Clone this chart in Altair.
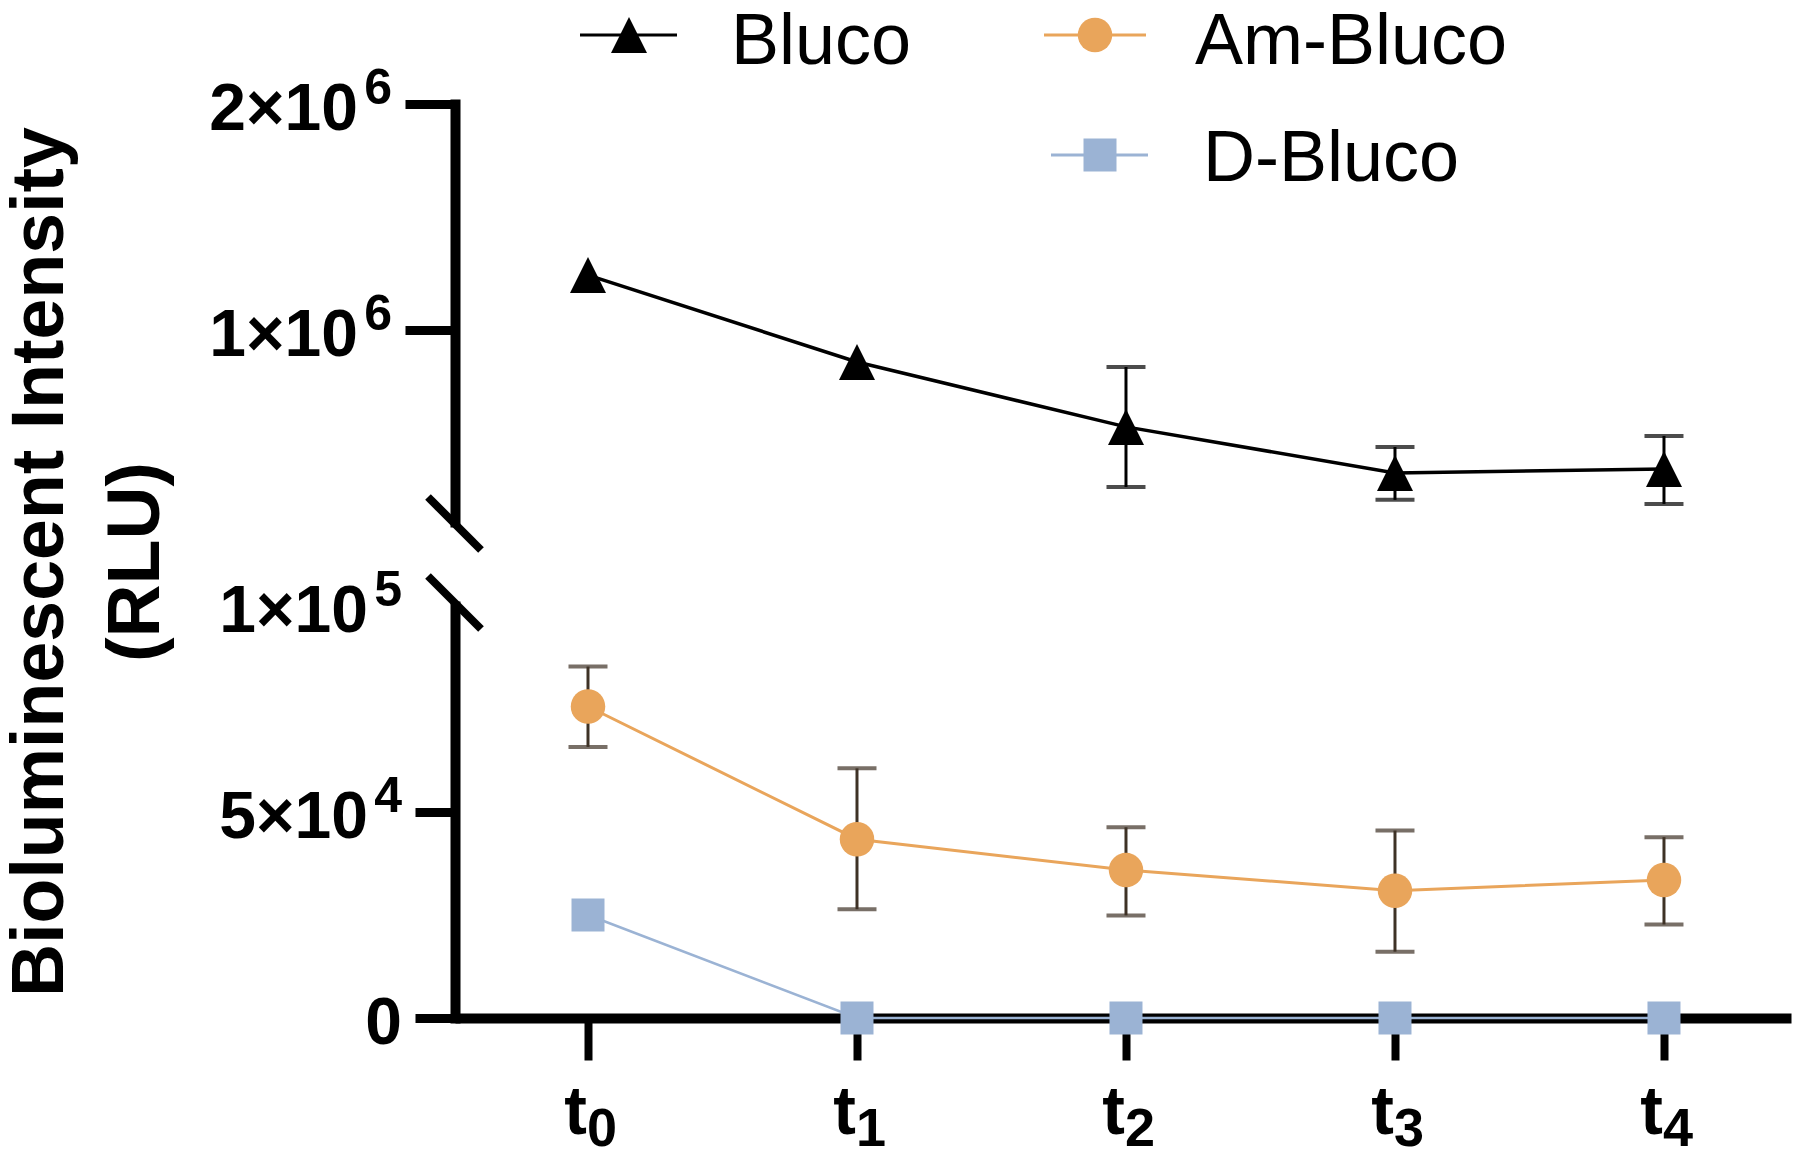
import altair as alt
import pandas as pd

# ---------------- data ----------------
times = ["t0", "t1", "t2", "t3", "t4"]
subs = ["0", "1", "2", "3", "4"]

bluco_mean = [1243000, 858000, 571000, 367000, 385000]
bluco_low = [None, None, 305000, 248000, 230000]
bluco_high = [None, None, 836000, 482000, 531000]

am_mean = [75600, 43400, 35900, 30900, 33500]
am_low = [65800, 26400, 24900, 16100, 22700]
am_high = [85300, 60600, 46300, 45500, 43900]

d_mean = [25000, 0, 0, 0, 0]

series_names = ["Bluco", "Am-Bluco", "D-Bluco"]

upper_tick_values = [1000000, 2000000]
upper_tick_base = ["1×10", "2×10"]
upper_tick_sup = ["6", "6"]

lower_tick_values = [50000, 100000]
lower_tick_base = ["5×10", "1×10"]
lower_tick_sup = ["4", "5"]
lower_plain_values = [0]
lower_plain_text = ["0"]

y_title = ["Bioluminescent Intensity", "(RLU)"]

# ---------------- styling / layout ----------------
FONT = "Liberation Sans"
BLACK = "#000000"
ORANGE = "#E9A55B"
BLUE = "#9BB3D4"
BROWN = "#3E3226"
TRI = "M0,-1L1,1L-1,1Z"

W = 1336          # plot width
UH = 418          # upper segment height
GAP = 84          # gap of the broken axis
LH = 412          # lower segment height
H = UH + GAP + LH

df = pd.DataFrame({
    "time": times, "sub": subs,
    "bluco": bluco_mean, "bluco_lo": bluco_low, "bluco_hi": bluco_high,
    "am": am_mean, "am_lo": am_low, "am_hi": am_high,
    "d": d_mean,
})

xscale = alt.Scale(type="point", domain=times, padding=0.4833, align=0.5115)
x_axis = alt.Axis(labels=False, title=None, grid=False, tickSize=42, tickWidth=8,
                  tickColor=BLACK, domainWidth=10, domainColor=BLACK, domainCap="butt")
X = alt.X("time:N", scale=xscale, axis=x_axis, title=None)

up_scale = alt.Scale(domain=[150000, 2000000], range=[UH, 0], nice=False, zero=False)
up_axis = alt.Axis(orient="left", values=upper_tick_values, labels=False, title=None, grid=False,
                   tickSize=50, tickWidth=9, tickColor=BLACK, domainWidth=10,
                   domainColor=BLACK, domainCap="square")

lo_scale = alt.Scale(domain=[0, 100000], range=[H, UH + GAP], nice=False)
lo_axis = alt.Axis(orient="left", values=[0, 50000], labels=False, title=None, grid=False,
                   tickSize=40, tickWidth=9, tickColor=BLACK, domainWidth=10,
                   domainColor=BLACK, domainCap="square")

one = alt.Data(values=[{"k": 1}])


def yu(f):
    return alt.Y(f"{f}:Q", scale=up_scale, axis=up_axis, title=None)


def yl(f):
    return alt.Y(f"{f}:Q", scale=lo_scale, axis=lo_axis, title=None)


# ---------------- upper segment ----------------
base = alt.Chart(df)
u_err = base.mark_rule(color=BLACK, strokeWidth=3).encode(x=X, y=yu("bluco_lo"), y2="bluco_hi:Q")
u_cap_lo = base.mark_tick(color=BLACK, thickness=4, size=39, orient="horizontal").encode(x=X, y=yu("bluco_lo"))
u_cap_hi = base.mark_tick(color=BLACK, thickness=4, size=39, orient="horizontal").encode(x=X, y=yu("bluco_hi"))
u_line = base.mark_line(color=BLACK, strokeWidth=3.5).encode(x=X, y=yu("bluco"))
u_pts = base.mark_point(shape=TRI, filled=True, color=BLACK, opacity=1, size=1296,
                        strokeWidth=0).encode(x=X, y=yu("bluco"))

ulab = pd.DataFrame({"v": upper_tick_values, "base": upper_tick_base, "sup": upper_tick_sup})
u_lab_base = alt.Chart(ulab).mark_text(font=FONT, fontSize=66, fontWeight="bold", align="right",
                                       baseline="alphabetic", dy=26, color=BLACK).encode(
    x=alt.value(-97), y=yu("v"), text="base:N")
u_lab_sup = alt.Chart(ulab).mark_text(font=FONT, fontSize=50, fontWeight="bold", align="right",
                                      baseline="alphabetic", dy=0, color=BLACK).encode(
    x=alt.value(-63), y=yu("v"), text="sup:N")

upper = alt.layer(u_err, u_cap_lo, u_cap_hi, u_line, u_pts, u_lab_base, u_lab_sup)

# ---------------- lower segment ----------------
l_err = base.mark_rule(color=BROWN, strokeWidth=3).encode(x=X, y=yl("am_lo"), y2="am_hi:Q")
l_cap_lo = base.mark_tick(color=BROWN, thickness=4, size=39, orient="horizontal").encode(x=X, y=yl("am_lo"))
l_cap_hi = base.mark_tick(color=BROWN, thickness=4, size=39, orient="horizontal").encode(x=X, y=yl("am_hi"))
l_line_am = base.mark_line(color=ORANGE, strokeWidth=3).encode(x=X, y=yl("am"))
l_line_d = base.mark_line(color=BLUE, strokeWidth=2.5).encode(x=X, y=yl("d"))
l_pts_am = base.mark_point(shape="circle", filled=True, color=ORANGE, opacity=1, size=1190,
                           strokeWidth=0).encode(x=X, y=yl("am"))
l_pts_d = base.mark_point(shape="square", filled=True, color=BLUE, opacity=1, size=1089,
                          strokeWidth=0).encode(x=X, y=yl("d"))

llab = pd.DataFrame({"v": lower_tick_values, "base": lower_tick_base, "sup": lower_tick_sup})
l_lab_base = alt.Chart(llab).mark_text(font=FONT, fontSize=66, fontWeight="bold", align="right",
                                       baseline="alphabetic", dy=26, color=BLACK).encode(
    x=alt.value(-87), y=yl("v"), text="base:N")
l_lab_sup = alt.Chart(llab).mark_text(font=FONT, fontSize=50, fontWeight="bold", align="right",
                                      baseline="alphabetic", dy=0, color=BLACK).encode(
    x=alt.value(-53), y=yl("v"), text="sup:N")
lplain = pd.DataFrame({"v": lower_plain_values, "t": lower_plain_text})
l_lab_plain = alt.Chart(lplain).mark_text(font=FONT, fontSize=66, fontWeight="bold", align="right",
                                          baseline="alphabetic", dy=26, color=BLACK).encode(
    x=alt.value(-53), y=yl("v"), text="t:N")

x_t = base.mark_text(text="t", font=FONT, fontSize=68, fontWeight="bold", align="right",
                     baseline="alphabetic", dx=-1, color=BLACK).encode(
    x=X, y=alt.value(H + 116))
x_sub = base.mark_text(font=FONT, fontSize=54, fontWeight="bold", align="left",
                       baseline="alphabetic", dx=-1, color=BLACK).encode(
    x=X, y=alt.value(H + 128), text="sub:N")

lower = alt.layer(l_err, l_cap_lo, l_cap_hi, l_line_am, l_line_d, l_pts_am, l_pts_d,
                  l_lab_base, l_lab_sup, l_lab_plain, x_t, x_sub)

# ---------------- decorations: axis breaks, title, legend ----------------
deco = []
deco.append(alt.Chart(one).mark_rule(color=BLACK, strokeWidth=8).encode(
    x=alt.value(-27), x2=alt.value(26), y=alt.value(UH - 25), y2=alt.value(UH + 28)))
deco.append(alt.Chart(one).mark_rule(color=BLACK, strokeWidth=8).encode(
    x=alt.value(-27), x2=alt.value(26), y=alt.value(UH + GAP - 30), y2=alt.value(UH + GAP + 23)))
deco.append(alt.Chart(one).mark_text(text=y_title, font=FONT, fontSize=73.5, fontWeight="bold",
                                     angle=270, align="center", baseline="alphabetic",
                                     lineHeight=96, color=BLACK).encode(
    x=alt.value(-392), y=alt.value(458)))

leg = [
    # name, color, shape, line x1, x2, y, symbol x, text x, text baseline
    (series_names[0], BLACK, TRI, 125, 222, -69, 174, 276, -40),
    (series_names[1], ORANGE, "circle", 589, 691, -69, 640, 740, -40),
    (series_names[2], BLUE, "square", 596, 693, 51, 645, 748, 77),
]
sizes = {TRI: 1296, "circle": 1190, "square": 1089}
for name, col, shp, lx1, lx2, ly, sx, tx, tb in leg:
    deco.append(alt.Chart(one).mark_rule(color=col, strokeWidth=3).encode(
        x=alt.value(lx1), x2=alt.value(lx2), y=alt.value(ly)))
    deco.append(alt.Chart(one).mark_point(shape=shp, filled=True, color=col, opacity=1,
                                          size=sizes[shp], strokeWidth=0).encode(
        x=alt.value(sx), y=alt.value(ly)))
    deco.append(alt.Chart(one).mark_text(text=name, font=FONT, fontSize=72, align="left",
                                         baseline="alphabetic", color=BLACK).encode(
        x=alt.value(tx), y=alt.value(tb)))

chart = alt.layer(upper, lower, *deco).resolve_scale(y="independent").properties(
    width=W, height=H,
    autosize=alt.AutoSizeParams(type="none"),
    padding={"left": 447, "top": 96, "right": 1, "bottom": 141},
).configure_view(stroke=None)

chart.save("out.html", embed_options={"renderer": "svg", "actions": False})
